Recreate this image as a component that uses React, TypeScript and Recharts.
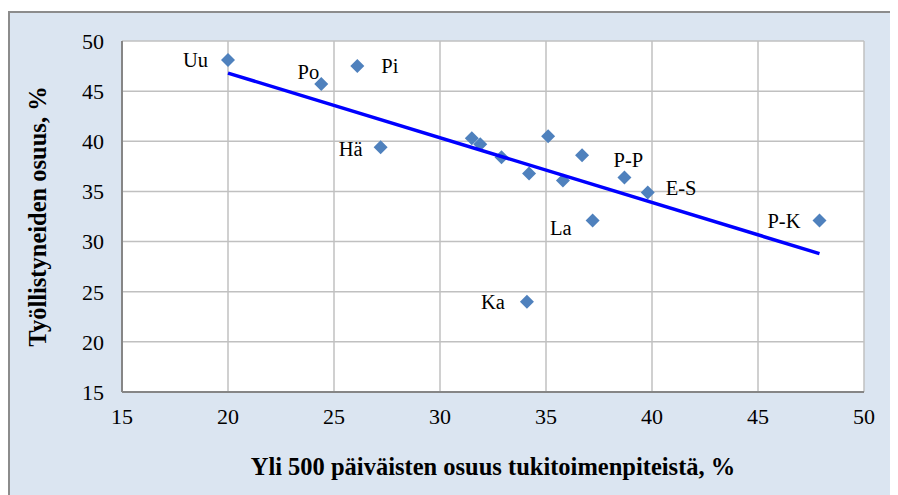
import { ScatterChart, Scatter, XAxis, YAxis, CartesianGrid, LabelList } from "recharts";

// regions (abbreviated), share of >500-day unemployed in support measures, share employed
const regions = ["Uu", "Po", "Pi", "Hä", "", "", "", "", "", "", "", "La", "P-P", "E-S", "P-K", "Ka"];
const longTermShare = [20.0, 24.4, 26.1, 27.2, 31.5, 31.9, 32.9, 34.2, 35.1, 36.7, 35.8, 37.2, 38.7, 39.8, 47.9, 34.1];
const employedShare = [48.1, 45.7, 47.5, 39.4, 40.3, 39.7, 38.4, 36.8, 40.5, 38.6, 36.1, 32.1, 36.4, 34.9, 32.1, 24.0];

const trendX = [20.0, 47.9];
const trendY = [46.8, 28.8];

const xTicks = [15, 20, 25, 30, 35, 40, 45, 50];
const yTicks = [15, 20, 25, 30, 35, 40, 45, 50];

const points = regions.map((name, i) => ({ name, x: longTermShare[i], y: employedShare[i] }));
const trend = trendX.map((x, i) => ({ x, y: trendY[i] }));

// where each label sits relative to its marker
const labelOffset: Record<string, [number, number, "start" | "middle" | "end"]> = {
  Uu: [-20, 0, "end"],
  Po: [-2, -12, "end"],
  Pi: [24, 0, "start"],
  "Hä": [-18, 2, "end"],
  La: [-21, 7, "end"],
  "P-P": [4, -17, "middle"],
  "E-S": [18, -4, "start"],
  "P-K": [-19, 0, "end"],
  Ka: [-22, 0, "end"],
};

const font = "Liberation Serif, Times New Roman, serif";

const Diamond = (props: any) => {
  const { cx, cy } = props;
  const r = 7;
  return (
    <polygon
      points={`${cx},${cy - r} ${cx + r},${cy} ${cx},${cy + r} ${cx - r},${cy}`}
      fill="#4f81bd"
    />
  );
};

const PointLabel = (props: any) => {
  const { x, y, width, height, value } = props;
  if (!value) return null;
  const off = labelOffset[value] ?? [12, 0, "start"];
  const cx = x + (width ?? 0) / 2;
  const cy = y + (height ?? 0) / 2;
  return (
    <text
      x={cx + off[0]}
      y={cy + off[1]}
      textAnchor={off[2]}
      dominantBaseline="central"
      fontFamily={font}
      fontSize={20.5}
      fill="#000"
    >
      {value}
    </text>
  );
};

export default function App() {
  return (
    <div
      style={{
        width: 880,
        height: 484,
        marginTop: 3,
        border: "2px solid #8c8c8c",
        background: "#dbe5f1",
      }}
    >
      <ScatterChart width={880} height={484} margin={{ top: 28, right: 26, bottom: 0, left: 0 }}>
        <CartesianGrid stroke="#c0c0c0" strokeWidth={1.5} fill="#ffffff" />
        <XAxis
          type="number"
          dataKey="x"
          domain={[15, 50]}
          ticks={xTicks}
          tickLine={false}
          axisLine={{ stroke: "#868686", strokeWidth: 2 }}
          tick={{ fontFamily: font, fontSize: 22, fill: "#000" }}
          tickMargin={10}
          height={105}
          label={{
            value: "Yli 500 päiväisten osuus tukitoimenpiteistä, %",
            position: "insideBottom",
            offset: 22,
            style: { fontFamily: font, fontSize: 24.5, fontWeight: "bold", fill: "#000" },
          }}
        />
        <YAxis
          type="number"
          dataKey="y"
          domain={[15, 50]}
          ticks={yTicks}
          tickLine={false}
          axisLine={{ stroke: "#868686", strokeWidth: 2 }}
          tick={{ fontFamily: font, fontSize: 22, fill: "#000" }}
          tickMargin={12}
          width={112}
          label={{
            value: "Työllistyneiden osuus, %",
            angle: -90,
            position: "insideLeft",
            offset: 27,
            style: { fontFamily: font, fontSize: 24.5, fontWeight: "bold", fill: "#000", textAnchor: "middle" },
          }}
        />
        <Scatter
          data={points}
          shape={<Diamond />}
          isAnimationActive={false}
        >
          <LabelList dataKey="name" content={<PointLabel />} />
        </Scatter>
        <Scatter
          data={trend}
          line={{ stroke: "#0000ff", strokeWidth: 3.5 }}
          shape={() => <g />}
          isAnimationActive={false}
        />
      </ScatterChart>
    </div>
  );
}
